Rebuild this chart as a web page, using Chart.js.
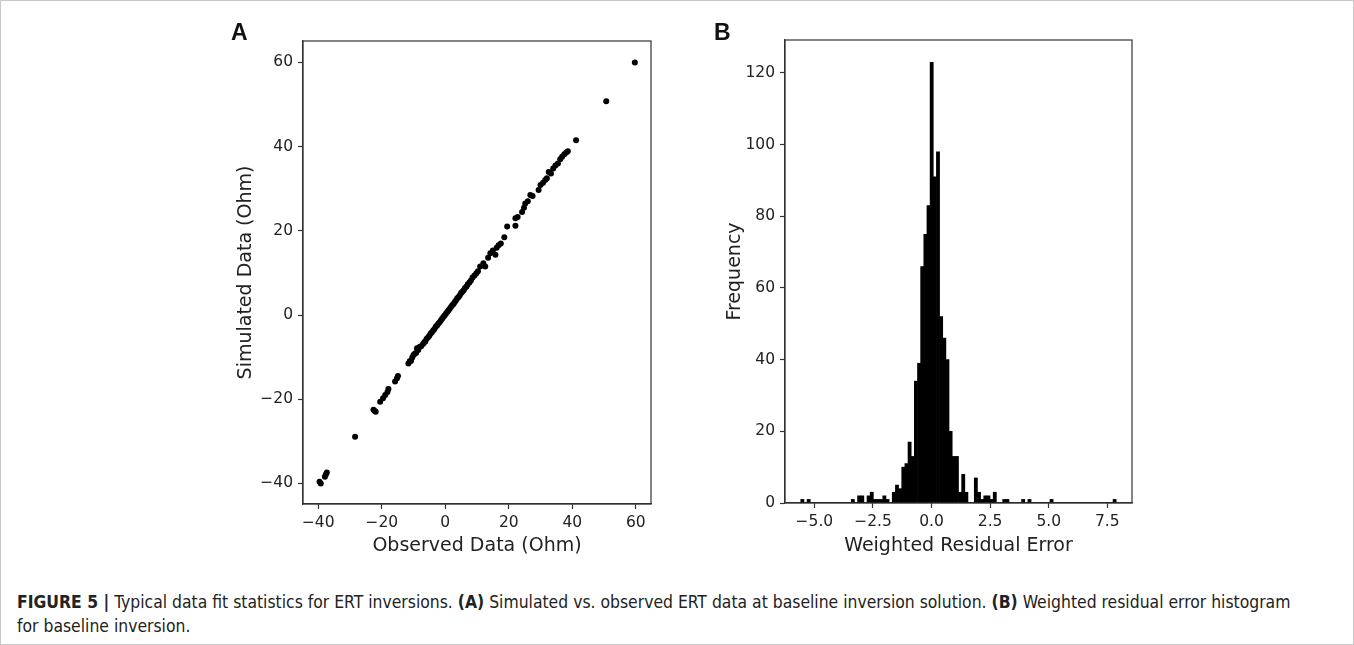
<!DOCTYPE html>
<html>
<head>
<meta charset="utf-8">
<script src="https://cdn.jsdelivr.net/npm/chart.js@4.4.1/dist/chart.umd.min.js"></script>
<style>
  html, body { margin: 0; padding: 0; background: #fff; }
  #page { position: relative; width: 1354px; height: 645px; overflow: hidden; background: #fff; }
  #frame { position: absolute; left: 0; top: 0; width: 1352px; height: 643px; border: 1px solid #c8c8c8; }
  .cv { position: absolute; }
  .plab { position: absolute; font-family: "Liberation Sans", Arial, sans-serif; font-weight: bold; font-size: 23px; color: #111; }
  #caption { position: absolute; left: 17px; top: 590px; width: 1400px; font-family: "Liberation Sans Narrow", "DejaVu Sans Condensed", sans-serif; font-size: 17.5px; line-height: 24px; color: #222; transform: scaleX(0.993); transform-origin: 0 0; }
  #caption b { font-weight: bold; }
</style>
</head>
<body>
<div id="page">
  <div id="frame"></div>
  <canvas id="chartA" class="cv" style="left:200px;top:0px;" width="480" height="580"></canvas>
  <canvas id="chartB" class="cv" style="left:700px;top:0px;" width="480" height="580"></canvas>
  <div class="plab" style="left:231px;top:19px;">A</div>
  <div class="plab" style="left:714px;top:19px;">B</div>
  <div id="caption"><b>FIGURE 5 |</b> Typical data fit statistics for ERT inversions. <b>(A)</b> Simulated vs. observed ERT data at baseline inversion solution. <b>(B)</b> Weighted residual error histogram<br>for baseline inversion.</div>
</div>
<script>
// ---------- Panel A data ----------
const observed = [
  -39.6, -39.2, -37.9, -37.3, -37.6,
  -28.4,
  -22.6, -21.9, -22.2,
  -20.5, -19.6, -18.9, -18.2, -17.9,
  -15.8, -15.2, -14.9,
  -11.6, -11.2, -10.8, -10.4, -10.0, -9.6, -9.2, -8.9, -8.5, -8.1, -7.6,
  -7.0, -6.6, -6.3, -5.9, -5.4, -5.0, -4.6, -4.2, -3.8, -3.4, -3.0, -2.6, -2.2, -1.8, -1.4, -1.0, -0.6, -0.2,
  0.2, 0.6, 1.0, 1.4, 1.8, 2.2, 2.6, 3.0, 3.4, 3.8, 4.2, 4.6, 5.0, 5.4, 5.8, 6.2, 6.7, 7.1, 7.6, 8.1, 8.6, 9.2, 9.8, 10.3,
  11.0, 12.6, 12.0, 13.5, 14.2, 15.8, 15.0, 16.2, 16.8, 17.5, 18.6,
  19.5, 22.1, 22.1, 22.8, 24.2, 24.8, 25.2, 26.0, 26.8, 27.5,
  29.4, 30.0, 30.8, 31.5, 32.0, 32.6, 33.3, 34.0, 34.7, 35.5, 36.2, 36.8, 37.5, 38.1, 38.6,
  41.2, 50.7, 59.7
];
const simulated = [
  -39.6, -40.0, -38.4, -37.4, -37.9,
  -28.9,
  -22.5, -23.0, -22.8,
  -20.6, -19.8, -19.0, -18.3, -17.6,
  -15.8, -15.0, -14.5,
  -11.5, -11.0, -10.9, -10.1, -9.5, -9.2, -9.0, -7.9, -8.3, -7.6, -7.4,
  -6.9, -6.5, -6.3, -5.7, -5.3, -4.9, -4.4, -4.1, -3.7, -3.3, -2.8, -2.5, -2.1, -1.7, -1.3, -0.9, -0.5, -0.1,
  0.3, 0.7, 1.1, 1.5, 1.9, 2.3, 2.6, 3.1, 3.5, 4.0, 4.3, 4.7, 5.2, 5.5, 5.9, 6.4, 6.8, 7.3, 7.7, 8.2, 8.9, 9.4, 9.9, 10.4,
  11.5, 11.5, 12.3, 13.6, 14.7, 14.3, 15.3, 16.0, 16.6, 17.0, 18.5,
  21.0, 21.2, 23.0, 23.3, 24.5, 25.5, 26.5, 27.0, 28.5, 28.3,
  29.7, 30.9, 31.4, 32.1, 32.5, 34.0, 33.6, 34.8, 35.5, 36.0, 37.0, 37.6, 38.2, 38.6, 38.9,
  41.5, 50.8, 60.0
];
const aTicks = [-40, -20, 0, 20, 40, 60];

// ---------- Panel B data (histogram) ----------
const histMin = -5.58;      // left edge of first bin
const binWidth = 0.1346;    // bin width
const binCounts = [
  1, 0, 1, 0, 0, 0, 0, 0, 0, 0,
  0, 0, 0, 0, 0, 0, 1, 0, 2, 2,
  0, 2, 3, 1, 1, 1, 2, 1, 0, 3,
  5, 4, 10, 11, 17, 13, 34, 39, 66, 75,
  83, 123, 91, 98, 52, 46, 40, 20, 13, 13,
  3, 8, 3, 0, 0, 7, 3, 1, 2, 2,
  1, 3, 0, 0, 1, 1, 0, 0, 0, 0,
  1, 0, 1, 0, 0, 0, 0, 0, 0, 1,
  0, 0, 0, 0, 0, 0, 0, 0, 0, 0,
  0, 0, 0, 0, 0, 0, 0, 0, 0, 1
];
const bXTicks = [-5.0, -2.5, 0.0, 2.5, 5.0, 7.5];
const bYTicks = [0, 20, 40, 60, 80, 100, 120];

// ---------- helpers ----------
const MINUS = '\u2212';
const fmtInt = v => (v < 0 ? MINUS + Math.abs(v) : String(v));
const fmt1 = v => (v < 0 ? MINUS + Math.abs(v).toFixed(1) : v.toFixed(1));
const TXT = '#222';
const tickFont = { family: 'DejaVu Sans', size: 15.5 };
const titleFont = { family: 'DejaVu Sans', size: 19 };

const boxPlugin = {
  id: 'box',
  afterDraw(chart) {
    const { ctx, chartArea: a } = chart;
    ctx.save();
    ctx.strokeStyle = '#333';
    ctx.lineWidth = 1.2;
    ctx.strokeRect(a.left, a.top, a.right - a.left, a.bottom - a.top);
    ctx.restore();
  }
};

function axisCommon(ticksArr, fmt, extra) {
  return Object.assign({
    type: 'linear',
    offset: false,
    grid: { display: true, drawOnChartArea: false, drawTicks: true, tickLength: 5, tickColor: '#333', tickWidth: 1.2, offset: false },
    border: { display: true, color: '#333', width: 1.2 },
    afterBuildTicks: s => { s.ticks = ticksArr.map(v => ({ value: v })); },
    ticks: { color: TXT, font: tickFont, padding: 5, autoSkip: false, maxRotation: 0, callback: v => fmt(v) }
  }, extra);
}

// ---------- Chart A ----------
const scatterPts = observed.map((x, i) => ({ x: x, y: simulated[i] }));
new Chart(document.getElementById('chartA'), {
  type: 'scatter',
  data: { datasets: [{ data: scatterPts, backgroundColor: '#000', borderWidth: 0, pointRadius: 3, pointHoverRadius: 3 }] },
  options: {
    responsive: false, animation: false, events: [],
    layout: { padding: { left: 0, right: 29, top: 41, bottom: 0 } },
    plugins: { legend: { display: false }, tooltip: { enabled: false } },
    scales: {
      x: axisCommon(aTicks, fmtInt, {
        min: -44.8, max: 64.8,
        afterFit: s => { s.height = 76; },
        title: { display: true, text: 'Observed Data (Ohm)', color: TXT, font: titleFont, padding: { top: 0, bottom: 23 } }
      }),
      y: axisCommon(aTicks, fmtInt, {
        min: -44.9, max: 65.1,
        afterFit: s => { s.width = 103; },
        title: { display: true, text: 'Simulated Data (Ohm)', color: TXT, font: titleFont, padding: { top: 35, bottom: 0 } }
      })
    }
  },
  plugins: [boxPlugin]
});

// ---------- Chart B ----------
const histPts = binCounts.map((c, i) => ({ x: histMin + (i + 0.5) * binWidth, y: c }));
new Chart(document.getElementById('chartB'), {
  type: 'bar',
  data: { datasets: [{ data: histPts, backgroundColor: '#000', borderWidth: 0, barPercentage: 1.0, categoryPercentage: 1.0 }] },
  options: {
    responsive: false, animation: false, events: [],
    layout: { padding: { left: 0, right: 48, top: 40, bottom: 0 } },
    plugins: { legend: { display: false }, tooltip: { enabled: false } },
    scales: {
      x: axisCommon(bXTicks, fmt1, {
        min: -6.253, max: 8.553,
        afterFit: s => { s.height = 77; },
        title: { display: true, text: 'Weighted Residual Error', color: TXT, font: titleFont, padding: { top: 0, bottom: 23 } }
      }),
      y: axisCommon(bYTicks, fmtInt, {
        min: 0, max: 129.2,
        afterFit: s => { s.width = 85; },
        title: { display: true, text: 'Frequency', color: TXT, font: titleFont, padding: { top: 24, bottom: 0 } }
      })
    }
  },
  plugins: [boxPlugin]
});
</script>
</body>
</html>
